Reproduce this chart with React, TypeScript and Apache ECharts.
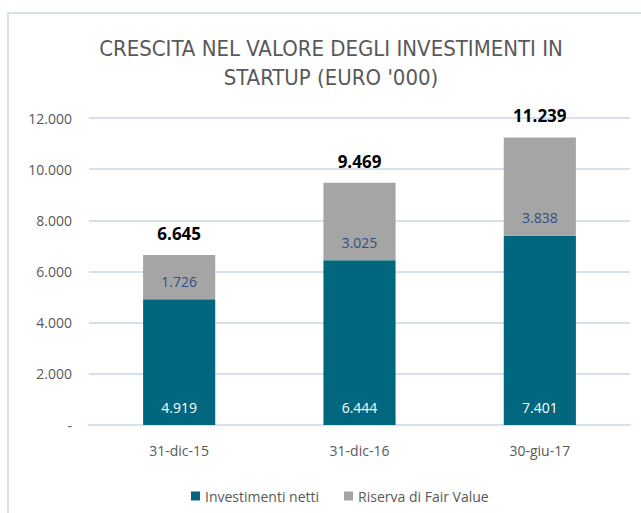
import React, { useEffect, useRef } from "react";
import * as echarts from "echarts";

const categories = ["31-dic-15", "31-dic-16", "30-giu-17"];
const investimentiNetti = [4919, 6444, 7401];
const riservaFairValue = [1726, 3025, 3838];
const totali = [6645, 9469, 11239];
const titleLines = ["CRESCITA NEL VALORE DEGLI INVESTIMENTI IN", "STARTUP (EURO '000)"];
const seriesNames = ["Investimenti netti", "Riserva di Fair Value"];

const fmt = (v: number) => {
  if (v === 0) return "-";
  return String(Math.round(v)).replace(/\B(?=(\d{3})+(?!\d))/g, ".");
};

export default function App() {
  const ref = useRef<HTMLDivElement>(null);
  useEffect(() => {
    if (!ref.current) return;
    const chart = echarts.init(ref.current, null, { renderer: "svg" });
    const narrow = "'Liberation Sans Narrow', 'DejaVu Sans Condensed', sans-serif";
    const sans = "'Open Sans', sans-serif";
    chart.setOption({
      animation: false,
      backgroundColor: "#ffffff",
      graphic: [
        {
          type: "rect",
          shape: { x: 8, y: 13, width: 700, height: 600 },
          style: { fill: "none", stroke: "#D6E0EF", lineWidth: 2 },
          z: -1,
        },
        {
          type: "text",
          x: 331,
          y: 48,
          style: {
            text: titleLines[0],
            textAlign: "center",
            textVerticalAlign: "middle",
            fontFamily: narrow,
            fontSize: 22,
            fill: "#595959",
          },
        },
        {
          type: "text",
          x: 331,
          y: 77,
          style: {
            text: titleLines[1],
            textAlign: "center",
            textVerticalAlign: "middle",
            fontFamily: narrow,
            fontSize: 22,
            fill: "#595959",
          },
        },
      ],
      grid: { left: 89, right: 11, top: 118, bottom: 88, containLabel: false },
      legend: {
        data: seriesNames,
        left: 186,
        top: 484,
        icon: "rect",
        itemWidth: 9,
        itemHeight: 9,
        itemGap: 25,
        textStyle: { fontFamily: sans, fontSize: 14, color: "#595959" },
      },
      xAxis: {
        type: "category",
        data: categories,
        axisLine: { show: true, lineStyle: { color: "#D6E0EF", width: 2 } },
        axisTick: { show: false },
        axisLabel: { margin: 18, fontFamily: sans, fontSize: 14, color: "#595959" },
      },
      yAxis: {
        type: "value",
        min: 0,
        max: 12000,
        interval: 2000,
        axisLine: { show: false },
        axisTick: { show: false },
        splitLine: { lineStyle: { color: "#D6E0EF", width: 2 } },
        axisLabel: {
          margin: 17,
          fontFamily: sans,
          fontSize: 14,
          color: "#595959",
          formatter: (v: number) => fmt(v),
        },
      },
      series: [
        {
          name: seriesNames[0],
          type: "bar",
          stack: "tot",
          barWidth: "40%",
          data: investimentiNetti,
          itemStyle: { color: "#00677F" },
          label: {
            show: true,
            position: "insideBottom",
            distance: 11,
            fontFamily: sans,
            fontSize: 14,
            color: "#ffffff",
            formatter: (p: any) => fmt(p.value),
          },
        },
        {
          name: seriesNames[1],
          type: "bar",
          stack: "tot",
          barWidth: "40%",
          data: riservaFairValue,
          itemStyle: { color: "#A5A5A5" },
          label: {
            show: true,
            position: "insideBottom",
            distance: 11,
            fontFamily: sans,
            fontSize: 14,
            color: "#2F4F86",
            formatter: (p: any) => fmt(p.value),
          },
        },
        {
          name: "Totale",
          type: "bar",
          barWidth: "40%",
          barGap: "-100%",
          data: totali,
          silent: true,
          z: 1,
          itemStyle: { color: "rgba(0,0,0,0)" },
          label: {
            show: true,
            position: "top",
            distance: 13,
            fontFamily: sans,
            fontSize: 17,
            fontWeight: "bold",
            color: "#000000",
            formatter: (p: any) => fmt(p.value),
          },
        },
      ],
    });
    return () => chart.dispose();
  }, []);
  return (
    <div
      ref={ref}
      style={{ position: "fixed", left: 0, top: 0, width: 641, height: 513 }}
    />
  );
}
